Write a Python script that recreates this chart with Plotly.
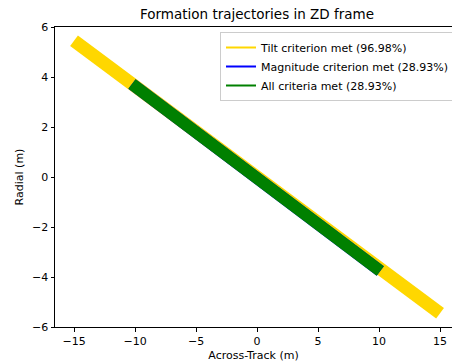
import plotly.graph_objects as go

# Trajectory segments (across-track x, radial y), in metres
tilt_x = [-15.0, 15.0]
tilt_y = [5.45, -5.45]
mag_x = [-10.25, 10.1]
mag_y = [3.72, -3.76]
all_x = [-10.25, 10.1]
all_y = [3.72, -3.76]

labels = [
    "Tilt criterion met (96.98%)",
    "Magnitude criterion met (28.93%)",
    "All criteria met (28.93%)",
]
colors = ["#FFD700", "#0000FF", "#008000"]

FONT = "DejaVu Sans"
W, H = 452, 364
L, R, T, B = 55, 0, 27, 37

fig = go.Figure()

# Thick trajectory bands
for xs, ys, c, w in [(tilt_x, tilt_y, colors[0], 13), (mag_x, mag_y, colors[1], 12), (all_x, all_y, colors[2], 12)]:
    fig.add_trace(go.Scatter(x=xs, y=ys, mode="lines", line=dict(color=c, width=w),
                             showlegend=False, hoverinfo="skip", cliponaxis=False))

# Thin legend entries
for lab, c in zip(labels, colors):
    fig.add_trace(go.Scatter(x=[None], y=[None], mode="lines", line=dict(color=c, width=2),
                             name=lab, showlegend=True))

plot_w = W - L - R
plot_h = H - T - B

fig.update_layout(
    width=W, height=H,
    margin=dict(l=L, r=R, t=T, b=B, pad=0, autoexpand=False),
    paper_bgcolor="white", plot_bgcolor="white",
    font=dict(family=FONT, size=11, color="black"),
    title=dict(text="Formation trajectories in ZD frame", x=257 / W, xanchor="center",
               y=1 - 14 / H, yanchor="middle", font=dict(size=13.5, family=FONT, color="black")),
    legend=dict(x=(220 - L) / plot_w, y=1 - 5 / plot_h, xanchor="left", yanchor="top",
                bgcolor="rgba(255,255,255,0.8)", bordercolor="#cccccc", borderwidth=1,
                font=dict(size=11, family=FONT), tracegroupgap=0, itemwidth=30),
    showlegend=True,
)

fig.update_xaxes(
    range=[-16.56, 15.98], tickvals=[-15, -10, -5, 0, 5, 10, 15],
    showline=True, linecolor="black", linewidth=1, mirror=True,
    ticks="outside", ticklen=3.5, tickwidth=0.8, tickcolor="black",
    showgrid=False, zeroline=False, automargin=False,
    title=dict(text="Across-Track (m)", font=dict(size=11, family=FONT), standoff=4),
    tickfont=dict(size=11, family=FONT),
)
fig.update_yaxes(
    range=[-6, 6], tickvals=[-6, -4, -2, 0, 2, 4, 6],
    showline=True, linecolor="black", linewidth=1, mirror=False,
    ticks="outside", ticklen=3.5, tickwidth=0.8, tickcolor="black",
    showgrid=False, zeroline=False, automargin=False,
    title=dict(text="Radial (m)", font=dict(size=11, family=FONT), standoff=6),
    tickfont=dict(size=11, family=FONT),
)

fig.write_html("out.html")
